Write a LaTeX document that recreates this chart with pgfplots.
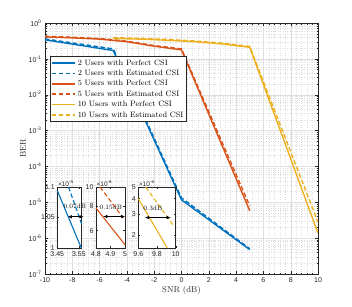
\documentclass[border=0pt]{standalone}
\usepackage{pgfplots}
\pgfplotsset{compat=1.18}
\usepackage{fontspec}
\newfontfamily\tickfont{Liberation Sans}
\usetikzlibrary{arrows.meta}
\definecolor{mblue}{rgb}{0,0.447,0.741}
\definecolor{mred}{rgb}{0.85,0.325,0.098}
\definecolor{myel}{rgb}{0.929,0.694,0.125}
\definecolor{axc}{rgb}{0.15,0.15,0.15}
\definecolor{gridc}{rgb}{0.87,0.87,0.87}
\tikzset{
  mline/.style={line width=1.4pt},
  mdash/.style={line width=1.4pt, dash pattern=on 4.5pt off 2.5pt},
  dar/.style={black, line width=0.6pt, {Latex[length=4pt,width=3.5pt]}-{Latex[length=4pt,width=3.5pt]}},
}
\pgfplotsset{
  myinset/.style={anchor=south west, scale only axis, height=61pt,
    axis background/.style={fill=white}, clip=false,
    axis line style={axc, line width=0.5pt},
    tick style={axc, line width=0.4pt}, major tick length=2pt,
    minor tick length=0pt,
    tick label style={font=\tickfont\fontsize{7}{8}\selectfont, text=axc},
    yticklabel style={xshift=1pt}},
}
\begin{document}
\begin{tikzpicture}
\begin{axis}[
  at={(0pt,0pt)}, anchor=south west,
  scale only axis, width=273pt, height=251pt,
  xmin=-10, xmax=10, ymode=log, ymin=1e-7, ymax=1,
  xtick={-10,-8,-6,-4,-2,0,2,4,6,8,10},
  xticklabels={-10,-8,-6,-4,-2,0,2,4,6,8,10},
  ytick={1e-7,1e-6,1e-5,1e-4,1e-3,1e-2,1e-1,1},
  yticklabels={10\textsuperscript{-7},10\textsuperscript{-6},10\textsuperscript{-5},10\textsuperscript{-4},10\textsuperscript{-3},10\textsuperscript{-2},10\textsuperscript{-1},10\textsuperscript{0}},
  minor x tick num=4,
  grid=both,
  major grid style={gridc, line width=0.4pt},
  minor grid style={gridc, dotted, line width=0.4pt},
  axis line style={axc, line width=0.5pt},
  tick style={axc, line width=0.4pt},
  major tick length=3pt, minor tick length=1.5pt,
  tick pos=both, tick align=inside,
  tick label style={font=\tickfont\fontsize{7}{8}\selectfont, text=axc},
  xlabel={SNR (dB)}, ylabel={BER},
  label style={font=\fontsize{8.5}{10}\selectfont, text=axc},
  xlabel style={at={(axis description cs:0.5,-0.0637)}, anchor=center},
  ylabel style={at={(axis description cs:-0.0806,0.5)}, anchor=center},
  legend style={at={(0.018,0.867)}, anchor=north west,
    font=\fontsize{7.8}{9}\selectfont, draw=axc, fill=white,
    inner sep=1pt, row sep=-0.6pt, cells={anchor=west}, text=black},
  legend image code/.code={\draw[#1, line width=1.7pt] (0pt,0pt) -- (23pt,0pt);},
]
\addplot[mline, mblue] coordinates {(-10,0.34)(-5,0.171)(0,1.17e-5)(5,4.8e-7)};
\addlegendentry{2 Users with Perfect CSI}
\addplot[mdash, mblue] coordinates {(-10,0.36)(-5,0.19)(0,1.33e-5)(5,5.05e-7)};
\addlegendentry{2 Users with Estimated CSI}
\addplot[mline, mred] coordinates {(-10,0.41)(-8,0.385)(-6,0.355)(-4,0.3)(-2,0.225)(0,0.178)(5,5.8e-6)};
\addlegendentry{5 Users with Perfect CSI}
\addplot[mdash, mred] coordinates {(-10,0.425)(-8,0.40)(-6,0.37)(-4,0.312)(-2,0.235)(0,0.19)(5,7.9e-6)};
\addlegendentry{5 Users with Estimated CSI}
\addplot[mline, myel] coordinates {(-5,0.37)(-3,0.355)(-1,0.33)(1,0.3)(3,0.26)(5,0.21)(10,1.38e-6)};
\addlegendentry{10 Users with Perfect CSI}
\addplot[mdash, myel] coordinates {(-5,0.39)(-3,0.373)(-1,0.347)(1,0.315)(3,0.273)(5,0.222)(10,2.8e-6)};
\addlegendentry{10 Users with Estimated CSI}
\end{axis}

% inset 1
\begin{axis}[myinset, ymode=log, at={(12.3pt,26pt)}, width=24.4pt,
  xmin=3.45, xmax=3.563, ymin=1, ymax=1.1,
  xtick={3.45,3.55}, xticklabels={3.45,3.55},
  ytick={1,1.05,1.1}, yticklabels={1,1.05,1.1}]
\addplot[mline, mblue, line width=1.1pt] coordinates {(3.45,1.094)(3.561,1.0)};
\addplot[mdash, mblue, line width=1.1pt] coordinates {(3.502,1.1)(3.563,1.038)};
\addplot[dar] coordinates {(3.499,1.05)(3.572,1.05)};
\node[font=\fontsize{6.5}{7}\selectfont] at (axis cs:3.531,1.067) {0.07dB};
\node[anchor=south west, inner sep=0.5pt, font=\tickfont\fontsize{6.5}{7}\selectfont, text=axc] at (rel axis cs:0,1) {×10\textsuperscript{-5}};
\end{axis}

% inset 2
\begin{axis}[myinset, ymode=log, at={(51pt,26pt)}, width=29pt,
  xmin=4.8, xmax=5, ymin=4.9, ymax=10,
  xtick={4.8,4.9,5}, xticklabels={4.8,4.9,5},
  ytick={6,8,10}, yticklabels={6,8,10}]
\addplot[mline, mred, line width=1.1pt] coordinates {(4.8,7.82)(5,5.09)};
\addplot[mdash, mred, line width=1.1pt] coordinates {(4.828,10)(4.988,6.96)};
\addplot[dar] coordinates {(4.850,7.08)(5.0,7.08)};
\node[font=\fontsize{6.5}{7}\selectfont] at (axis cs:4.903,7.87) {0.15dB};
\node[anchor=south west, inner sep=0.5pt, font=\tickfont\fontsize{6.5}{7}\selectfont, text=axc] at (rel axis cs:0,1) {×10\textsuperscript{-6}};
\end{axis}

% inset 3
\begin{axis}[myinset, ymode=log, at={(93.3pt,26pt)}, width=37.4pt,
  xmin=9.6, xmax=10, ymin=1.56, ymax=5,
  xtick={9.6,9.8,10}, xticklabels={9.6,9.8,10},
  ytick={2,3,4,5}, yticklabels={2,3,4,5}]
\addplot[mline, myel, line width=1.1pt] coordinates {(9.6,4.0)(9.91,1.56)};
\addplot[mdash, myel, line width=1.1pt] coordinates {(9.679,5)(9.968,2.44)};
\addplot[dar] coordinates {(9.672,2.79)(9.947,2.79)};
\node[font=\fontsize{6.5}{7}\selectfont] at (axis cs:9.756,3.31) {0.3dB};
\node[anchor=south west, inner sep=0.5pt, font=\tickfont\fontsize{6.5}{7}\selectfont, text=axc] at (rel axis cs:0,1) {×10\textsuperscript{-6}};
\end{axis}
\pgfresetboundingbox
\path (-45pt,-32pt) rectangle (307pt,274pt);
\end{tikzpicture}
\end{document}
